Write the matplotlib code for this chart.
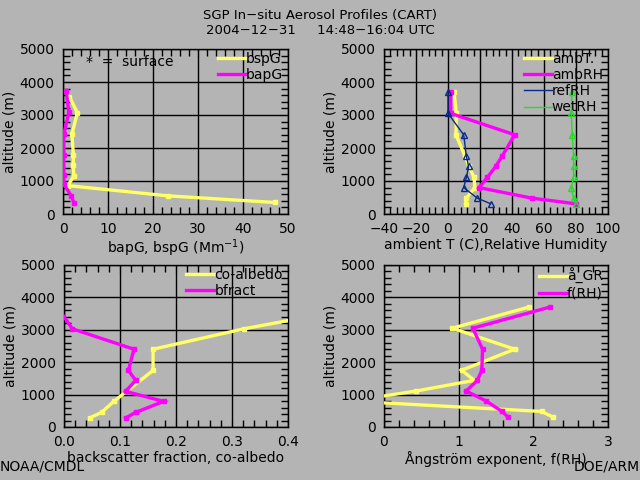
import matplotlib
matplotlib.use("Agg")
import matplotlib.pyplot as plt
from matplotlib.ticker import MultipleLocator

BG = "#b4b4b4"
YEL = "#ffff66"
MAG = "#ff00ff"
NAVY = "#0a2a8a"
GRN = "#22dd22"

# --- data: altitude (m) of each profile level, top to bottom ---
alt = [3700, 3050, 2400, 1750, 1440, 1110, 800, 480, 310]

# panel 1: scattering / absorption (Mm-1)
alt_sp = [3560, 3070, 2430, 1790, 1480, 1150, 860, 550, 350]
bspG = [1.4, 3.2, 2.0, 2.3, 2.3, 2.4, 1.1, 23.3, 47.0]
alt_ap = [3740, 3080, 2430, 1790, 1180, 910, 550, 340]
bapG = [0.7, 1.3, 0.2, 0.2, 0.2, 0.15, 1.85, 2.4]

# panel 2: temperature and RH
ambT = [3.8, 5.2, 5.0, 10.6, 13.1, 16.3, 16.7, 11.5, 11.0]
ambRH = [1.7, 1.7, 41.7, 33.8, 29.8, 24.6, 19.4, 52.5, 79.8]
refRH = [0.0, 0.0, 9.8, 11.5, 12.9, 11.5, 9.8, 18.3, 26.7]
wetRH = [77.5, 77.0, 77.7, 78.5, 78.5, 78.5, 77.0, 78.5, 79.8]

# panel 3: backscatter fraction, co-albedo
alt_ca = [3700, 3030, 2400, 1745, 790, 450, 280]
coalb = [0.53, 0.321, 0.159, 0.159, 0.089, 0.067, 0.046]
alt_bf = [3700, 3030, 2400, 1745, 1440, 1100, 790, 450, 280]
bfract = [-0.012, 0.015, 0.125, 0.115, 0.128, 0.11, 0.178, 0.128, 0.11]

# panel 4: Angstrom exponent, f(RH)
agr = [1.94, 0.915, 1.75, 1.04, 1.21, 0.43, -0.45, 2.11, 2.26]
fRH = [2.22, 1.19, 1.32, 1.31, 1.25, 1.10, 1.37, 1.58, 1.66]

plt.rcParams.update({
    "font.family": "DejaVu Sans", "font.size": 10,
    "xtick.direction": "in", "ytick.direction": "in",
    "xtick.top": True, "ytick.right": True,
    "xtick.minor.visible": True, "ytick.minor.visible": True,
    "xtick.minor.size": 5, "ytick.minor.size": 5,
    "xtick.minor.width": 1.0, "ytick.minor.width": 1.0,
    "xtick.major.size": 6, "ytick.major.size": 6,
    "xtick.major.pad": 6, "ytick.major.pad": 6,
})
fig = plt.figure(figsize=(6.4, 4.8), dpi=100, facecolor=BG)

W, H = 640, 480


def mkax(x0, x1, ytop, ybot):
    return fig.add_axes([x0 / W, 1 - ybot / H, (x1 - x0) / W, (ybot - ytop) / H])


def style(ax, xlim, xmaj, xlabel):
    ax.set_facecolor(BG)
    ax.set_xlim(*xlim)
    ax.set_ylim(0, 5000)
    ax.xaxis.set_major_locator(MultipleLocator(xmaj))
    ax.xaxis.set_minor_locator(MultipleLocator(xmaj / 5))
    ax.yaxis.set_major_locator(MultipleLocator(1000))
    ax.yaxis.set_minor_locator(MultipleLocator(200))
    ax.grid(True, which="major", color="black", lw=1.0)
    for s in ax.spines.values():
        s.set_color("black")
        s.set_linewidth(1.0)
    ax.set_xlabel(xlabel, fontsize=10, labelpad=1)
    ax.set_ylabel("altitude (m)", fontsize=10, labelpad=2)


def leg(ax):
    ax.legend(loc="upper right", bbox_to_anchor=(1.02, 1.04), frameon=False,
              handlelength=2.0, handletextpad=0.0, labelspacing=0.15,
              markerscale=0, borderpad=0.2)


thick = dict(lw=2.4, marker="s", ms=3.5, solid_joinstyle="miter", zorder=3)

# top-left
ax1 = mkax(63, 288, 49, 214)
style(ax1, (0, 50), 10, "bapG, bspG (Mm$^{-1}$)")
ax1.plot(bspG, alt_sp, color=YEL, label="bspG", **thick)
ax1.plot(bapG, alt_ap, color=MAG, label="bapG", **thick)
ax1.text(0.1, 0.92, "*  =  surface", transform=ax1.transAxes, va="center", fontsize=10)
leg(ax1)

# top-right
ax2 = mkax(384, 608, 49, 214)
style(ax2, (-40, 100), 20, "ambient T (C),Relative Humidity")
ax2.plot(ambT, alt, color=YEL, label="ambT.", **thick)
ax2.plot(ambRH, alt, color=MAG, label="ambRH", **thick)
ax2.plot(refRH, alt, color=NAVY, lw=1.0, marker="^", ms=5, mfc="none", label="refRH", zorder=3)
ax2.plot(wetRH, alt, color=GRN, lw=1.0, marker="^", ms=5, mfc="none", label="wetRH", zorder=3)
leg(ax2)

# bottom-left
ax3 = mkax(64, 288, 265, 427)
style(ax3, (0, 0.4), 0.1, "backscatter fraction, co-albedo")
ax3.xaxis.set_major_formatter(plt.FormatStrFormatter("%.1f"))
ax3.plot(coalb, alt_ca, color=YEL, label="co-albedo", **thick)
ax3.plot(bfract, alt_bf, color=MAG, label="bfract", **thick)
leg(ax3)

# bottom-right
ax4 = mkax(384, 608, 265, 427)
style(ax4, (0, 3), 1, "Ångström exponent, f(RH)")
ax4.plot(agr, alt, color=YEL, label="å_GR", **thick)
ax4.plot(fRH, alt, color=MAG, label="f(RH)", **thick)
leg(ax4)

fig.text(0.5, 1 - 16 / H, "SGP In\u2212situ Aerosol Profiles (CART)", ha="center", va="center", fontsize=9.5)
fig.text(0.5, 1 - 30 / H, "2004\u221212\u221231     14:48\u221216:04 UTC", ha="center", va="center", fontsize=9.5)
fig.text(0.0, 1 - 467 / H, "NOAA/CMDL", ha="left", va="center", fontsize=10)
fig.text(1.0, 1 - 467 / H, "DOE/ARM", ha="right", va="center", fontsize=10)

fig.savefig("out.png", dpi=100, facecolor=BG)
